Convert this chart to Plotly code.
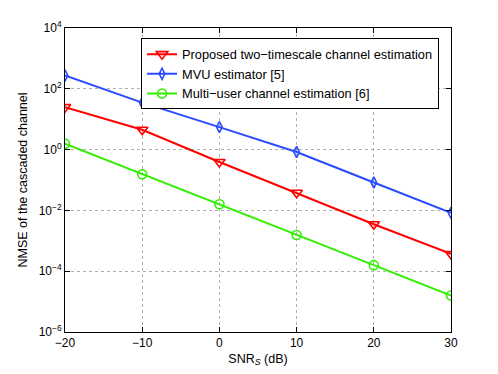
import plotly.graph_objects as go

snr = [-20, -10, 0, 10, 20, 30]
proposed = [25, 4.5, 0.39, 0.038, 0.0035, 3.7e-4]
mvu = [275, 35, 5.5, 0.83, 0.083, 0.0083]
multiuser = [1.57, 0.155, 0.016, 0.00155, 1.58e-4, 1.58e-5]

names = ["Proposed two\u2212timescale channel estimation", "MVU estimator [5]",
         "Multi\u2212user channel estimation [6]"]
ytickvals = [1e-6, 1e-4, 1e-2, 1e0, 1e2, 1e4]
yticktext = ["10<sup>\u22126</sup>", "10<sup>\u22124</sup>", "10<sup>\u22122</sup>",
             "10<sup>0</sup>", "10<sup>2</sup>", "10<sup>4</sup>"]
xtickvals = [-20, -10, 0, 10, 20, 30]
xticktext = ["\u221220", "\u221210", "0", "10", "20", "30"]

fig = go.Figure()
series = [(proposed, "#ff0000", "triangle-down-open", 10),
          (mvu, "#2a4bff", "diamond-tall-open", 8),
          (multiuser, "#33ee00", "circle-open", 9)]
for (vals, col, sym, sz), nm in zip(series, names):
    fig.add_trace(go.Scatter(x=snr, y=vals, mode="lines+markers", name=nm,
                             line=dict(color=col, width=2),
                             marker=dict(symbol=sym, size=sz, color=col,
                                         line=dict(color=col, width=1.6))))

axis_common = dict(showline=True, linecolor="black", linewidth=1, mirror="ticks",
                   ticks="inside", ticklen=5, tickcolor="black", automargin=False,
                   showgrid=True, gridcolor="#b0b0b0", griddash="dot", gridwidth=1,
                   zeroline=False, tickfont=dict(size=12, color="black"))

fig.update_layout(
    width=490, height=366,
    margin=dict(l=57, r=47, t=20, b=42),
    paper_bgcolor="white", plot_bgcolor="white",
    font=dict(family="Liberation Sans, Arial, sans-serif", size=12, color="black"),
    xaxis=dict(range=[-20, 30], tickvals=xtickvals, ticktext=xticktext,
               title=dict(text="SNR<sub><i>S</i></sub> (dB)", standoff=4, font=dict(size=12.5)),
               **axis_common),
    yaxis=dict(type="log", range=[-6, 4], tickvals=ytickvals, ticktext=yticktext,
               title=dict(text="NMSE of the cascaded channel", standoff=8, font=dict(size=12.5)),
               **axis_common),
    legend=dict(x=0.197, y=0.966, xanchor="left", yanchor="top",
                bordercolor="black", borderwidth=1, bgcolor="white",
                font=dict(size=12.8), tracegroupgap=0, itemwidth=30),
    showlegend=True,
)

fig.write_html("out.html")
